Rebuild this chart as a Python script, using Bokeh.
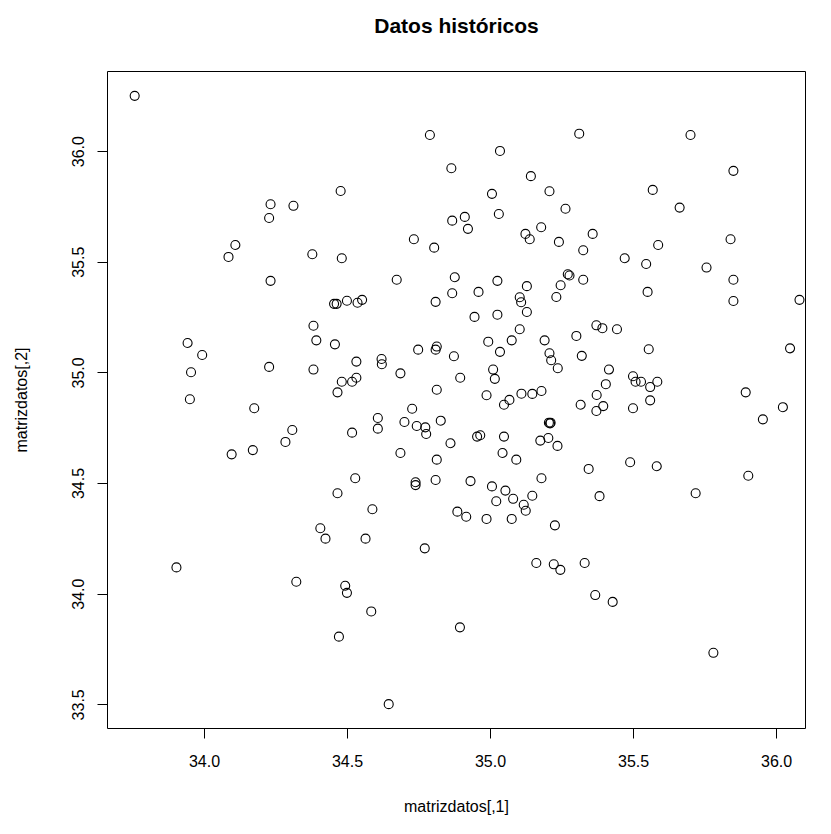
from bokeh.plotting import figure
from bokeh.models import Range1d, FixedTicker, Title
from bokeh.embed import file_html
from bokeh.resources import INLINE

x_vals = [33.756, 34.231, 34.226, 34.108, 34.084, 34.231, 34.788, 34.863, 34.476, 34.311,
          34.866, 34.732, 34.803, 34.377, 34.480, 34.672, 34.875, 34.866, 34.453, 34.462,
          34.498, 34.535, 34.551, 34.808, 35.310, 35.033, 35.141, 35.005, 35.206, 35.262,
          34.910, 34.921, 35.029, 35.122, 35.137, 35.177, 35.239, 35.357, 35.324, 35.469,
          35.024, 35.127, 35.270, 35.276, 35.245, 35.324, 34.958, 35.102, 35.107, 35.230,
          35.699, 35.849, 35.567, 35.661, 35.839, 35.586, 35.544, 35.755, 35.849, 35.549,
          35.849, 33.941, 33.992, 33.953, 34.226, 33.949, 34.174, 34.095, 34.169, 34.381,
          34.391, 34.456, 34.747, 34.808, 34.812, 34.872, 34.531, 34.619, 34.620, 34.381,
          34.685, 34.480, 34.531, 34.516, 34.465, 34.812, 34.726, 34.606, 34.606, 34.699,
          34.742, 34.772, 34.775, 34.826, 34.307, 34.283, 34.516, 34.860, 34.685, 34.812,
          34.527, 34.738, 34.738, 34.808, 34.465, 34.587, 34.884, 34.944, 35.024, 35.127,
          35.102, 34.992, 35.074, 35.189, 35.300, 35.370, 35.391, 35.442, 35.033, 35.206,
          35.212, 35.319, 35.235, 35.009, 35.015, 34.894, 35.414, 35.498, 35.403, 35.371,
          34.986, 35.047, 35.066, 35.108, 35.146, 35.178, 35.315, 35.394, 35.370, 35.498,
          35.204, 35.208, 35.210, 34.953, 34.964, 35.047, 35.174, 35.202, 35.234, 35.042,
          35.090, 35.343, 34.930, 35.178, 35.005, 35.052, 35.020, 35.079, 35.146, 35.116,
          35.123, 35.381, 34.915, 34.986, 35.074, 35.225, 35.553, 36.047, 35.507, 35.526,
          35.558, 35.583, 35.558, 35.892, 36.022, 35.952, 35.488, 35.581, 35.901, 35.717,
          33.902, 34.405, 34.423, 34.563, 34.770, 34.321, 34.492, 34.498, 34.583, 34.470,
          34.644, 35.160, 35.221, 35.244, 35.329, 35.366, 35.427, 34.893, 35.779, 36.080]

y_vals = [36.252, 35.762, 35.700, 35.578, 35.524, 35.416, 36.075, 35.925, 35.822, 35.755,
          35.688, 35.604, 35.566, 35.536, 35.518, 35.421, 35.432, 35.360, 35.312, 35.312,
          35.326, 35.317, 35.330, 35.321, 36.081, 36.003, 35.889, 35.809, 35.821, 35.742,
          35.705, 35.651, 35.718, 35.628, 35.604, 35.658, 35.592, 35.628, 35.554, 35.518,
          35.416, 35.392, 35.446, 35.440, 35.396, 35.421, 35.366, 35.342, 35.319, 35.343,
          36.075, 35.913, 35.827, 35.747, 35.604, 35.578, 35.492, 35.476, 35.421, 35.366,
          35.325, 35.135, 35.081, 35.003, 35.027, 34.881, 34.840, 34.632, 34.651, 35.213,
          35.147, 35.129, 35.105, 35.105, 35.119, 35.075, 35.051, 35.063, 35.039, 35.015,
          34.998, 34.960, 34.978, 34.960, 34.912, 34.924, 34.838, 34.796, 34.748, 34.778,
          34.760, 34.754, 34.724, 34.784, 34.742, 34.688, 34.730, 34.682, 34.638, 34.608,
          34.524, 34.506, 34.493, 34.516, 34.456, 34.384, 34.373, 35.253, 35.263, 35.275,
          35.197, 35.141, 35.147, 35.147, 35.167, 35.215, 35.202, 35.197, 35.095, 35.089,
          35.057, 35.077, 35.021, 35.015, 34.973, 34.978, 35.015, 34.985, 34.949, 34.900,
          34.899, 34.856, 34.878, 34.906, 34.905, 34.918, 34.856, 34.850, 34.828, 34.840,
          34.775, 34.772, 34.775, 34.712, 34.718, 34.712, 34.694, 34.706, 34.670, 34.638,
          34.608, 34.566, 34.511, 34.524, 34.487, 34.468, 34.420, 34.431, 34.445, 34.404,
          34.377, 34.443, 34.350, 34.340, 34.340, 34.311, 35.107, 35.111, 34.960, 34.960,
          34.936, 34.960, 34.876, 34.912, 34.845, 34.790, 34.596, 34.578, 34.535, 34.456,
          34.121, 34.298, 34.251, 34.251, 34.207, 34.056, 34.038, 34.006, 33.922, 33.808,
          33.503, 34.141, 34.135, 34.110, 34.141, 33.996, 33.965, 33.850, 33.735, 35.330]

x_ticks = [34.0, 34.5, 35.0, 35.5, 36.0]
y_ticks = [33.5, 34.0, 34.5, 35.0, 35.5, 36.0]
title_text = "Datos históricos"
x_label = "matrizdatos[,1]"
y_label = "matrizdatos[,2]"

FONT = "Liberation Sans"

p = figure(width=831, height=834, output_backend="svg", toolbar_location=None,
           x_range=Range1d(33.661, 36.101), y_range=Range1d(33.393, 36.362),
           min_border_left=107, min_border_right=26, min_border_top=71, min_border_bottom=106)

p.scatter(x_vals, y_vals, marker="circle", size=9, fill_color=None,
          line_color="black", line_width=1.1)

# real title in the figure's own title slot; an empty spacer title is
# stacked between it and the frame to lift it up
p.title.text = title_text
p.title.text_font = FONT
p.title.text_font_size = "21px"
p.title.text_font_style = "bold"
p.title.text_color = "black"
p.title.align = "center"
p.add_layout(Title(text=" ", text_font_size="15px", standoff=11), "above")

p.grid.visible = False
p.background_fill_color = "white"
p.border_fill_color = "white"
p.outline_line_color = "black"
p.outline_line_width = 1
p.outline_line_alpha = 1

for ax, ticks in ((p.xaxis[0], x_ticks), (p.yaxis[0], y_ticks)):
    ax.ticker = FixedTicker(ticks=ticks)
    ax.major_label_overrides = {t: f"{t:.1f}" for t in ticks}
    ax.axis_line_color = None
    ax.major_tick_line_color = "black"
    ax.major_tick_out = 10
    ax.major_tick_in = 0
    ax.minor_tick_line_color = None
    ax.major_label_text_font = FONT
    ax.major_label_text_font_size = "16px"
    ax.major_label_text_color = "black"
    ax.axis_label_text_font = FONT
    ax.axis_label_text_font_size = "16px"
    ax.axis_label_text_font_style = "normal"
    ax.axis_label_text_color = "black"

p.xaxis[0].axis_label = x_label
p.yaxis[0].axis_label = y_label
p.xaxis[0].major_label_standoff = 16
p.xaxis[0].axis_label_standoff = 28
p.yaxis[0].major_label_orientation = "vertical"
p.yaxis[0].major_label_standoff = 13
p.yaxis[0].axis_label_standoff = 40

open("out.html", "w").write(file_html(p, INLINE))
